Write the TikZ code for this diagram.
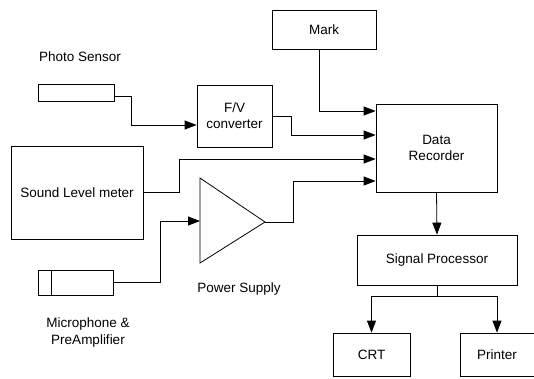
\documentclass[tikz,border=0pt]{standalone}
\usepackage{fontspec}
\setmainfont{Liberation Sans}
\usetikzlibrary{positioning,arrows.meta,calc}

\begin{document}
\begin{tikzpicture}[x=1pt,y=-1pt,line width=0.8pt,
  box/.style={draw,rectangle,inner sep=2pt,align=center,font=\fontsize{13.5}{16}\selectfont},
  lbl/.style={align=center,font=\fontsize{13.5}{17}\selectfont},
  arr/.style={-{Triangle[length=12pt,width=9pt]}}]
\useasboundingbox (0,0) rectangle (534,378);
% ---- sources ----
\node[box,minimum width=76pt,minimum height=17pt] (ps) at (76,92.5) {};
\node[lbl] (pslbl) at (80,57) {Photo Sensor};
\node[box,minimum width=132pt,minimum height=93pt] (slm) at (77,192.5) {Sound Level meter};
\node[box,minimum width=75pt,minimum height=25pt] (mic) at (75.5,282.5) {};
\draw ([xshift=14pt]mic.north west) -- ([xshift=14pt]mic.south west);
\node[lbl] (miclbl) at (88,332) {Microphone \&\\PreAmplifier};
% ---- amplifier ----
\draw (200,178) -- (265,222) -- (200,263) -- cycle;
\coordinate (ampin) at (200,221);
\coordinate (ampout) at (265,222);
\node[lbl] (pwlbl) at (239,289) {Power Supply};
% ---- recorder chain ----
\node[box,minimum width=75pt,minimum height=62pt] (fv) at (234.5,116) {F/V\\converter};
\node[box,minimum width=104pt,minimum height=39pt] (mark) at (324,30) {Mark};
\node[box,minimum width=121pt,minimum height=88pt] (dr) at (436.5,148) {Data\\Recorder};
\node[box,minimum width=160pt,minimum height=50pt] (sp) at (437,260) {Signal Processor};
\node[box,minimum width=77pt,minimum height=43pt] (crt) at (371.5,354.5) {CRT};
\node[box,minimum width=74pt,minimum height=43pt] (prt) at (497,354.5) {Printer};
% ---- connectors ----
\draw[arr] ([yshift=-4pt]ps.east) -- ++(17,0) |- ([yshift=-9pt]fv.west);
\draw[arr] ([xshift=-5pt]mark.south) |- ([yshift=37pt]dr.west);
\draw[arr] (fv.east) -- ++(19,0) |- ([yshift=13pt]dr.west);
\draw[arr] (slm.east) -- ++(36,0) |- ([yshift=-11pt]dr.west);
\draw[arr] (ampout) -- ++(28,0) |- ([yshift=-33pt]dr.west);
\draw[arr] (mic.east) -- ++(47,0) |- (ampin);
\draw[arr] (dr.south) -- (sp.north);
\draw (sp.south) -- ++(0,11) coordinate (split);
\draw[arr] (split) -| (crt.north);
\draw[arr] (split) -| (prt.north);
\end{tikzpicture}
\end{document}
